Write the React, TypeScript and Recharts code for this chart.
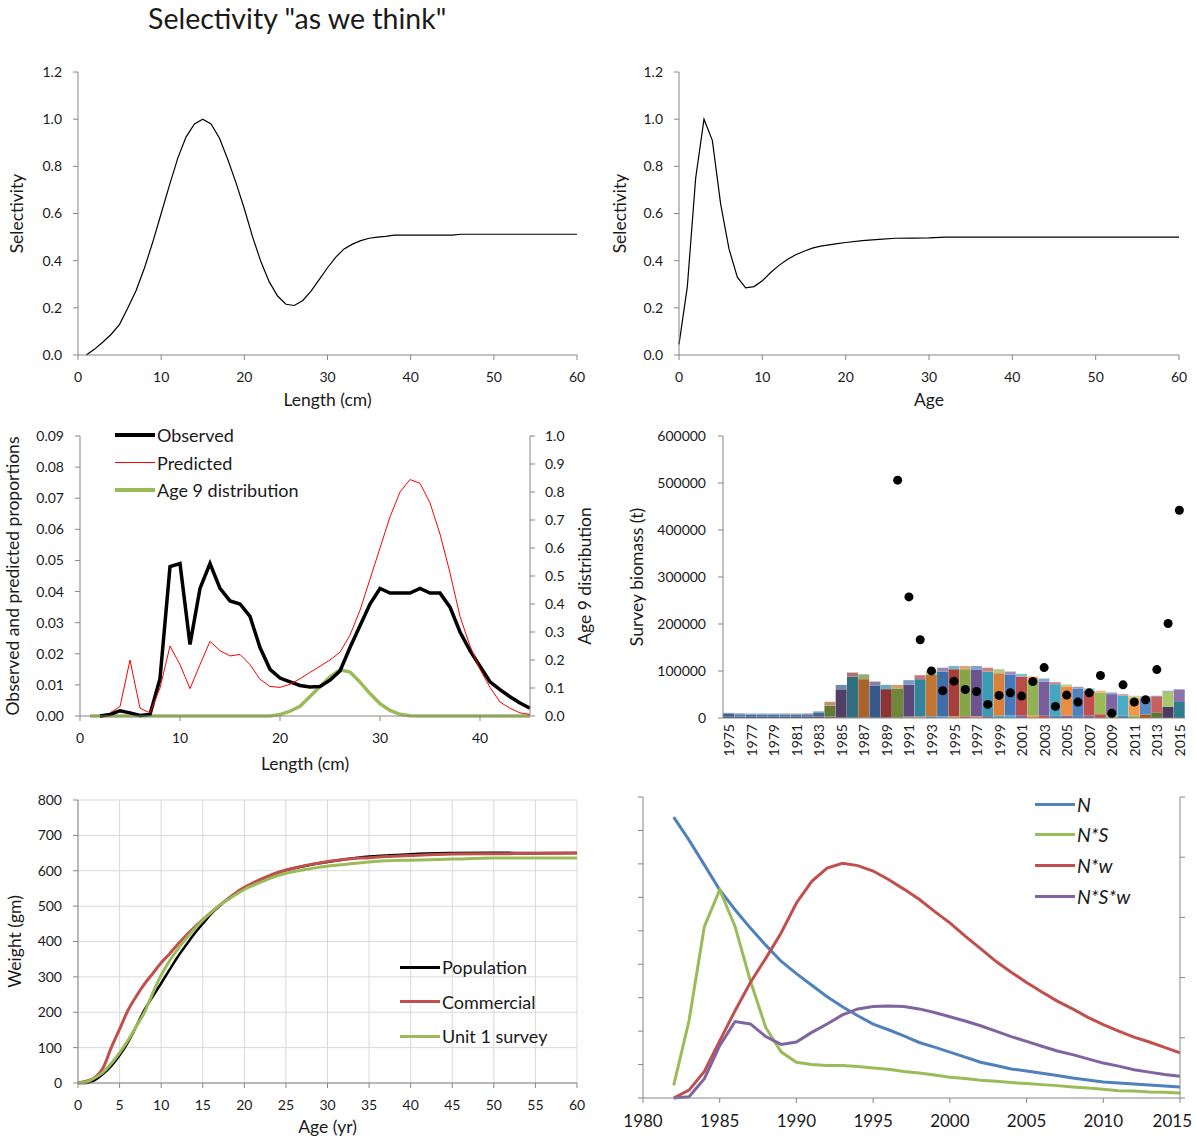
import React from 'react';
import { LineChart, Line, XAxis, YAxis, CartesianGrid, ComposedChart, Bar, Cell } from 'recharts';

const FONT = 'Lato, "Open Sans", sans-serif';
const AXIS = '#868686';
const INK = '#1a1a1a';
const TICK = { fontSize: 14, fill: INK, fontFamily: FONT };
const TITLE = { fontSize: 17.5, fill: INK, fontFamily: FONT };

// length-based selectivity
const lenSelX = [1, 2, 3, 4, 5, 6, 7, 8, 9, 10, 11, 12, 13, 14, 15, 16, 17, 18, 19, 20, 21, 22, 23, 24, 25, 26, 27, 28, 29, 30, 31, 32, 33, 34, 35, 36, 37, 38, 40, 45, 46, 50, 55, 60];
const lenSelY = [0, 0.025, 0.055, 0.088, 0.13, 0.2, 0.275, 0.37, 0.48, 0.6, 0.72, 0.835, 0.925, 0.98, 1.0, 0.98, 0.92, 0.83, 0.73, 0.62, 0.5, 0.395, 0.31, 0.25, 0.215, 0.21, 0.23, 0.27, 0.32, 0.37, 0.415, 0.45, 0.47, 0.485, 0.495, 0.5, 0.503, 0.508, 0.508, 0.508, 0.512, 0.512, 0.512, 0.512];

// age-based selectivity
const ageSelX = [0, 1, 2, 3, 4, 5, 6, 7, 8, 9, 10, 11, 12, 13, 14, 15, 16, 17, 18, 19, 20, 22, 24, 26, 28, 30, 32, 40, 50, 60];
const ageSelY = [0.045, 0.29, 0.75, 1.0, 0.91, 0.64, 0.45, 0.33, 0.285, 0.29, 0.315, 0.35, 0.38, 0.405, 0.425, 0.44, 0.453, 0.462, 0.467, 0.472, 0.477, 0.485, 0.49, 0.495, 0.496, 0.497, 0.5, 0.5, 0.5, 0.5];

// length composition
const compLen = [1, 2, 3, 4, 5, 6, 7, 8, 9, 10, 11, 12, 13, 14, 15, 16, 17, 18, 19, 20, 21, 22, 23, 24, 25, 26, 27, 28, 29, 30, 31, 32, 33, 34, 35, 36, 37, 38, 39, 40, 41, 42, 43, 44, 45];
const compObserved = [null, 0, 0.0005, 0.0017, 0.001, 0.0002, 0.0005, 0.012, 0.048, 0.049, 0.023, 0.041, 0.049, 0.041, 0.037, 0.036, 0.032, 0.022, 0.015, 0.0122, 0.011, 0.0098, 0.0093, 0.0095, 0.0115, 0.0145, 0.022, 0.029, 0.036, 0.041, 0.0395, 0.0395, 0.0395, 0.041, 0.0395, 0.0395, 0.035, 0.027, 0.021, 0.016, 0.011, 0.0085, 0.0062, 0.0042, 0.0025];
const compPredicted = [null, null, 0.001, 0.003, 0.018, 0.0025, 0.001, 0.009, 0.0225, 0.0165, 0.0088, 0.0165, 0.024, 0.021, 0.0193, 0.0198, 0.0165, 0.0118, 0.0095, 0.0092, 0.0102, 0.012, 0.014, 0.016, 0.018, 0.0205, 0.026, 0.034, 0.044, 0.054, 0.064, 0.072, 0.076, 0.0748, 0.0685, 0.0585, 0.046, 0.032, 0.0225, 0.015, 0.0092, 0.0045, 0.0025, 0.001, 0.0005];
const compAge9 = [0, 0, 0, 0, 0, 0, 0, 0, 0, 0, 0, 0, 0, 0, 0, 0, 0, 0, 0, 0.005, 0.017, 0.035, 0.07, 0.105, 0.14, 0.165, 0.157, 0.121, 0.08, 0.044, 0.02, 0.006, 0.001, 0, 0, 0, 0, 0, 0, 0, 0, 0, 0, 0, 0];

// survey biomass
const surveyYears = [1975, 1976, 1977, 1978, 1979, 1980, 1981, 1982, 1983, 1984, 1985, 1986, 1987, 1988, 1989, 1990, 1991, 1992, 1993, 1994, 1995, 1996, 1997, 1998, 1999, 2000, 2001, 2002, 2003, 2004, 2005, 2006, 2007, 2008, 2009, 2010, 2011, 2012, 2013, 2014, 2015];
const surveyBase = [3000, 3000, 2500, 2500, 2500, 2500, 2500, 2500, 3000, 3000, 1000, 1000, 1000, 1000, 1000, 1000, 3000, 3000, 3500, 3500, 3500, 3500, 3500, 4000, 5000, 5500, 5500, 5000, 5000, 4500, 5000, 4500, 5000, 8000, 6000, 5500, 6000, 7000, 12000, 24000, 34000];
const surveyMain = [5500, 5000, 5000, 5000, 5000, 5000, 5000, 5000, 8000, 23000, 60000, 87000, 81600, 67500, 60400, 61800, 67600, 79600, 88200, 95300, 100300, 100300, 98900, 94800, 90300, 86300, 82700, 77600, 72600, 67500, 62000, 58300, 53000, 46400, 44800, 42500, 37800, 34600, 33000, 31700, 26000];
const surveyCap = [2500, 2000, 2000, 2000, 2000, 2000, 2000, 2000, 3000, 8500, 9500, 8700, 10400, 9100, 9200, 7800, 9900, 8400, 8300, 8200, 7000, 7000, 8400, 8200, 8500, 7000, 5800, 5600, 6400, 4200, 4300, 3600, 4800, 3600, 3600, 2800, 3500, 4300, 2300, 2300, 1400];
const surveyObserved = [null, null, null, null, null, null, null, null, null, null, null, null, null, null, null, 506000, 257600, 166600, 100200, 57900, 78400, 60700, 56500, 28900, 48000, 53600, 46600, 77600, 107300, 24700, 48700, 33900, 53600, 90400, 9900, 70600, 33900, 38800, 103000, 201000, 442000];

const mainColors = ['#3f5f8f', '#5c7fb0', '#4c6b9c', '#5675a8', '#4a6fa5', '#5a76ac', '#4d72a6', '#5876aa', '#3d6a9a', '#62793a', '#523f66', '#2f6f7f', '#a8642c', '#37598a', '#8a3533', '#6d8838', '#5b4779', '#33849b', '#c47532', '#3e6ea9', '#a63e3b', '#86a549', '#6c538d', '#3c9bb4', '#db8038', '#4679bb', '#bb4b47', '#91b254', '#785d9b', '#46a6c2', '#ec8c41', '#4f81bd', '#c0504d', '#9bbb59', '#8064a2', '#4bacc6', '#f79646', '#5a8ac6', '#c9605d', '#a8c66c', '#8d73ad'];
const baseColors = ['#2c4d75', '#2c4d75', '#2c4d75', '#2c4d75', '#2c4d75', '#2c4d75', '#2c4d75', '#2c4d75', '#8a3533', '#5f7530', '#4d3b62', '#276a7c', '#b65708', '#2c4d75', '#772c2a', '#5f7530', '#9bbb59', '#f79646', '#4f81bd', '#4bacc6', '#f79646', '#c0504d', '#f79646', '#8064a2', '#4bacc6', '#4bacc6', '#8064a2', '#f79646', '#c0504d', '#4f81bd', '#8064a2', '#4f81bd', '#8064a2', '#c0504d', '#9bbb59', '#4f81bd', '#9bbb59', '#b65708', '#5f7530', '#4d3b62', '#2e7d8c'];

// weight at age
const wAge = [0, 1, 2, 3, 4, 5, 6, 7, 8, 9, 10, 11, 12, 13, 14, 15, 16, 17, 18, 19, 20, 21, 22, 23, 24, 25, 26, 27, 28, 29, 30, 32, 35, 37, 40, 45, 50, 55, 60];
const wPopulation = [0, 0, 8, 25, 48, 78, 115, 160, 207, 245, 282, 320, 357, 390, 422, 450, 478, 500, 520, 537, 552, 564, 575, 585, 594, 601, 607, 612, 617, 621, 625, 632, 640, 643, 647, 650, 651, 650, 650];
const wCommercial = [0, 5, 15, 42, 100, 152, 205, 245, 280, 310, 340, 365, 392, 417, 440, 462, 482, 502, 520, 538, 553, 565, 576, 586, 595, 602, 608, 613, 618, 622, 626, 632, 637, 640, 643, 647, 648, 649, 650];
const wSurvey = [0, 3, 14, 30, 55, 85, 120, 160, 200, 255, 305, 345, 378, 408, 435, 460, 482, 502, 518, 533, 547, 558, 568, 578, 586, 593, 598, 602, 606, 610, 613, 618, 625, 628, 630, 633, 636, 636, 636];

// population trends (arbitrary units)
const trendYears = [1982, 1983, 1984, 1985, 1986, 1987, 1988, 1989, 1990, 1991, 1992, 1993, 1994, 1995, 1996, 1997, 1998, 1999, 2000, 2001, 2002, 2003, 2004, 2005, 2006, 2007, 2008, 2009, 2010, 2011, 2012, 2013, 2014, 2015];
const trendN = [8.4, 7.71, 6.97, 6.22, 5.63, 5.08, 4.57, 4.09, 3.72, 3.37, 3.03, 2.73, 2.46, 2.21, 2.04, 1.86, 1.66, 1.52, 1.37, 1.22, 1.07, 0.97, 0.87, 0.81, 0.74, 0.67, 0.6, 0.54, 0.48, 0.45, 0.42, 0.39, 0.36, 0.33];
const trendNS = [0.38, 2.31, 5.13, 6.22, 5.13, 3.5, 2.11, 1.38, 1.07, 1.0, 0.97, 0.97, 0.94, 0.9, 0.86, 0.79, 0.75, 0.69, 0.62, 0.58, 0.53, 0.5, 0.46, 0.43, 0.4, 0.37, 0.33, 0.3, 0.26, 0.22, 0.21, 0.18, 0.17, 0.15];
const trendNW = [0, 0.13, 0.44, 0.95, 1.45, 1.92, 2.32, 2.74, 3.24, 3.6, 3.82, 3.9, 3.86, 3.77, 3.63, 3.47, 3.3, 3.1, 2.91, 2.69, 2.48, 2.27, 2.09, 1.92, 1.76, 1.61, 1.48, 1.34, 1.22, 1.11, 1.01, 0.93, 0.84, 0.75];
const trendNSW = [0, 0.02, 0.32, 0.87, 1.27, 1.23, 1.02, 0.89, 0.93, 1.09, 1.23, 1.38, 1.48, 1.52, 1.53, 1.52, 1.48, 1.42, 1.35, 1.28, 1.2, 1.11, 1.02, 0.94, 0.86, 0.78, 0.72, 0.65, 0.58, 0.53, 0.47, 0.43, 0.39, 0.36];

const lenSelData = lenSelX.map((x, i) => ({ x, s: lenSelY[i] }));
const ageSelData = ageSelX.map((x, i) => ({ x, s: ageSelY[i] }));
const compData = compLen.map((len, i) => ({ len, obs: compObserved[i], pred: compPredicted[i], age9: compAge9[i] }));
const surveyData = surveyYears.map((year, i) => ({ year, base: surveyBase[i], main: surveyMain[i], cap: surveyCap[i], obs: surveyObserved[i] }));
const weightData = wAge.map((age, i) => ({ age, pop: wPopulation[i], com: wCommercial[i], surv: wSurvey[i] }));
const trendData = trendYears.map((year, i) => ({ year, n: trendN[i], ns: trendNS[i], nw: trendNW[i], nsw: trendNSW[i] }));

// lighter tint for the thin cohort slivers on top of each bar
const tint = (hex: string, k: number) => {
  const c = [1, 3, 5].map((p) => parseInt(hex.slice(p, p + 2), 16));
  return '#' + c.map((v) => Math.round(v + (255 - v) * k).toString(16).padStart(2, '0')).join('');
};
const capColors = mainColors.map((c, i) => tint(mainColors[(i + 3) % mainColors.length], 0.3));

const steps = (a: number, b: number, s: number) => {
  const out: number[] = [];
  for (let v = a; v <= b + 1e-9; v += s) out.push(Math.round(v * 1000) / 1000);
  return out;
};

const yLabel = (value: string, offset: number, pos = 'insideLeft') => ({
  value, angle: -90, position: pos, offset, ...TITLE, style: { textAnchor: 'middle' },
});

const YearTick = (props: any) => {
  const { x, y, payload } = props;
  return (
    <text x={x} y={y} transform={`rotate(-90, ${x}, ${y})`} textAnchor="end" dominantBaseline="central"
      fontSize={14} fontFamily={FONT} fill={INK}>{payload.value}</text>
  );
};

// last year label is pulled inside the frame, as in the original
const TrendTick = (props: any) => {
  const { x, y, payload } = props;
  const last = payload.value === 2015;
  return (
    <text x={last ? x + 12 : x} y={y} dy="0.71em" textAnchor={last ? 'end' : 'middle'}
      fontSize={17} fontFamily={FONT} fill={INK}>{payload.value}</text>
  );
};

type KeyItem = { label: string; color: string; thick: number };
const KeyList = ({ items, left, top, step, italic = false, size = 18 }: { items: KeyItem[]; left: number; top: number; step: number; italic?: boolean; size?: number }) => (
  <>
    {items.map((it, i) => (
      <div key={it.label} style={{
        position: 'absolute', left, top: top + i * step - 12, height: 24, display: 'flex', alignItems: 'center',
        fontFamily: FONT, fontSize: size, fontStyle: italic ? 'italic' : 'normal', color: INK, whiteSpace: 'nowrap',
      }}>
        <span style={{ display: 'inline-block', width: 40, height: it.thick, background: it.color, marginRight: 2 }} />
        {it.label}
      </div>
    ))}
  </>
);

const Pane = ({ left, top, children }: { left: number; top: number; children: React.ReactNode }) => (
  <div style={{ position: 'absolute', left, top }}>{children}</div>
);

export default function App() {
  return (
    <div style={{ position: 'absolute', left: 0, top: 0, width: 1197, height: 1140, background: '#fff', overflow: 'hidden' }}>
      <div style={{ position: 'absolute', left: 148, top: 1, fontFamily: FONT, fontSize: 28.5, color: INK, whiteSpace: 'nowrap' }}>
        Selectivity "as we think"
      </div>

      <Pane left={0} top={60}>
        <LineChart width={600} height={360} data={lenSelData} margin={{ top: 12, right: 23, left: 0, bottom: 0 }}>
          <XAxis dataKey="x" type="number" domain={[0, 60]} ticks={steps(0, 60, 10)} stroke={AXIS} tick={TICK}
            tickSize={5} tickMargin={12} height={65}
            label={{ value: 'Length (cm)', position: 'insideBottom', offset: 14, ...TITLE }} />
          <YAxis type="number" domain={[0, 1.2]} ticks={steps(0, 1.2, 0.2)} tickFormatter={(v: number) => v.toFixed(1)}
            stroke={AXIS} tick={TICK} tickSize={5} tickMargin={11} width={78} label={yLabel('Selectivity', 17)} />
          <Line dataKey="s" type="linear" stroke="#000" strokeWidth={1.2} dot={false} activeDot={false} isAnimationActive={false} />
        </LineChart>
      </Pane>

      <Pane left={600} top={60}>
        <LineChart width={597} height={360} data={ageSelData} margin={{ top: 12, right: 18, left: 0, bottom: 0 }}>
          <XAxis dataKey="x" type="number" domain={[0, 60]} ticks={steps(0, 60, 10)} stroke={AXIS} tick={TICK}
            tickSize={5} tickMargin={12} height={65}
            label={{ value: 'Age', position: 'insideBottom', offset: 14, ...TITLE }} />
          <YAxis type="number" domain={[0, 1.2]} ticks={steps(0, 1.2, 0.2)} tickFormatter={(v: number) => v.toFixed(1)}
            stroke={AXIS} tick={TICK} tickSize={5} tickMargin={11} width={79} label={yLabel('Selectivity', 20)} />
          <Line dataKey="s" type="linear" stroke="#000" strokeWidth={1.2} dot={false} activeDot={false} isAnimationActive={false} />
        </LineChart>
      </Pane>

      <Pane left={0} top={420}>
        <LineChart width={600} height={360} data={compData} margin={{ top: 16, right: 0, left: 0, bottom: 0 }}>
          <XAxis dataKey="len" type="number" domain={[0, 45]} ticks={steps(0, 40, 10)} stroke={AXIS} tick={TICK}
            tickSize={5} tickMargin={12} height={64}
            label={{ value: 'Length (cm)', position: 'insideBottom', offset: 10, ...TITLE }} />
          <YAxis yAxisId="p" type="number" domain={[0, 0.09]} ticks={steps(0, 0.09, 0.01)} tickFormatter={(v: number) => v.toFixed(2)}
            stroke={AXIS} tick={TICK} tickSize={5} tickMargin={11} width={80}
            label={yLabel('Observed and predicted proportions', 13)} />
          <YAxis yAxisId="a" orientation="right" type="number" domain={[0, 1]} ticks={steps(0, 1, 0.1)} tickFormatter={(v: number) => v.toFixed(1)}
            stroke={AXIS} tick={TICK} tickSize={5} tickMargin={10} width={70}
            label={yLabel('Age 9 distribution', 15, 'insideRight')} />
          <Line yAxisId="a" dataKey="age9" type="linear" stroke="#9bbb59" strokeWidth={3.5} dot={false} activeDot={false} isAnimationActive={false} />
          <Line yAxisId="p" dataKey="obs" type="linear" stroke="#000" strokeWidth={3.5} dot={false} activeDot={false} isAnimationActive={false} />
          <Line yAxisId="p" dataKey="pred" type="linear" stroke="#ff0000" strokeWidth={1} dot={false} activeDot={false} isAnimationActive={false} />
        </LineChart>
      </Pane>
      <KeyList left={115} top={435} step={27.5} items={[
        { label: 'Observed', color: '#000', thick: 4 },
        { label: 'Predicted', color: '#ff0000', thick: 1 },
        { label: 'Age 9 distribution', color: '#9bbb59', thick: 4 },
      ]} />

      <Pane left={600} top={420}>
        <ComposedChart width={597} height={360} data={surveyData} barCategoryGap={0} barGap={0}
          margin={{ top: 16, right: 12, left: 0, bottom: 0 }}>
          <XAxis dataKey="year" interval={1} tick={<YearTick />} tickLine={false} tickSize={0} tickMargin={6}
            stroke={AXIS} height={62} />
          <YAxis type="number" domain={[0, 600000]} ticks={steps(0, 600000, 100000)} stroke={AXIS} tick={TICK}
            tickSize={5} tickMargin={12} width={123} label={yLabel('Survey biomass (t)', 37)} />
          <Bar dataKey="base" stackId="s" isAnimationActive={false}>
            {surveyData.map((d, i) => <Cell key={d.year} fill={baseColors[i]} />)}
          </Bar>
          <Bar dataKey="main" stackId="s" isAnimationActive={false}>
            {surveyData.map((d, i) => <Cell key={d.year} fill={mainColors[i]} />)}
          </Bar>
          <Bar dataKey="cap" stackId="s" isAnimationActive={false}>
            {surveyData.map((d, i) => <Cell key={d.year} fill={capColors[i]} />)}
          </Bar>
          <Line dataKey="obs" stroke="none" strokeWidth={0} dot={{ r: 4.5, fill: '#000', stroke: '#000', strokeWidth: 0 }}
            activeDot={false} isAnimationActive={false} />
        </ComposedChart>
      </Pane>

      <Pane left={0} top={780}>
        <LineChart width={600} height={360} data={weightData} margin={{ top: 20, right: 23, left: 0, bottom: 0 }}>
          <CartesianGrid stroke="#d9d9d9" />
          <XAxis dataKey="age" type="number" domain={[0, 60]} ticks={steps(0, 60, 5)} stroke={AXIS} tick={TICK}
            tickSize={5} tickMargin={12} height={57}
            label={{ value: 'Age (yr)', position: 'insideBottom', offset: 7, ...TITLE }} />
          <YAxis type="number" domain={[0, 800]} ticks={steps(0, 800, 100)} stroke={AXIS} tick={TICK}
            tickSize={5} tickMargin={11} width={78} label={yLabel('Weight (gm)', 15)} />
          <Line dataKey="pop" type="monotone" stroke="#000" strokeWidth={2.5} dot={false} activeDot={false} isAnimationActive={false} />
          <Line dataKey="com" type="monotone" stroke="#c0504d" strokeWidth={3} dot={false} activeDot={false} isAnimationActive={false} />
          <Line dataKey="surv" type="monotone" stroke="#9bbb59" strokeWidth={3} dot={false} activeDot={false} isAnimationActive={false} />
        </LineChart>
      </Pane>
      <KeyList left={400} top={967} step={34.5} items={[
        { label: 'Population', color: '#000', thick: 3 },
        { label: 'Commercial', color: '#c0504d', thick: 3 },
        { label: 'Unit 1 survey', color: '#9bbb59', thick: 3 },
      ]} />

      <Pane left={600} top={780}>
        <LineChart width={597} height={360} data={trendData} margin={{ top: 17, right: 0, left: 0, bottom: 0 }}>
          <XAxis dataKey="year" type="number" domain={[1980, 2015]} ticks={steps(1980, 2015, 5)} stroke={AXIS}
            tick={<TrendTick />} tickSize={5} tickMargin={12} height={42} />
          <YAxis yAxisId="n" type="number" domain={[0, 9]} ticks={steps(0, 9, 1)} tickFormatter={() => ''}
            stroke={AXIS} tickSize={5} width={43} />
          <YAxis yAxisId="b" orientation="right" type="number" domain={[0, 5]} ticks={steps(0, 5, 1)} tickFormatter={() => ''}
            stroke={AXIS} tickSize={5} width={17} />
          <Line yAxisId="n" dataKey="n" type="linear" stroke="#4f81bd" strokeWidth={3} dot={false} activeDot={false} isAnimationActive={false} />
          <Line yAxisId="n" dataKey="ns" type="linear" stroke="#9bbb59" strokeWidth={3} dot={false} activeDot={false} isAnimationActive={false} />
          <Line yAxisId="b" dataKey="nw" type="linear" stroke="#c0504d" strokeWidth={3} dot={false} activeDot={false} isAnimationActive={false} />
          <Line yAxisId="b" dataKey="nsw" type="linear" stroke="#8064a2" strokeWidth={3} dot={false} activeDot={false} isAnimationActive={false} />
        </LineChart>
      </Pane>
      <KeyList left={1035} top={804} step={30.7} italic size={19.5} items={[
        { label: 'N', color: '#4f81bd', thick: 3 },
        { label: 'N*S', color: '#9bbb59', thick: 3 },
        { label: 'N*w', color: '#c0504d', thick: 3 },
        { label: 'N*S*w', color: '#8064a2', thick: 3 },
      ]} />
    </div>
  );
}
